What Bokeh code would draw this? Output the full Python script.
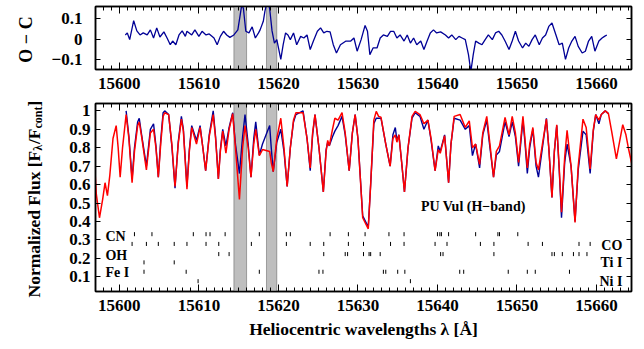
import math
from bokeh.plotting import figure
from bokeh.models import (Range1d, LinearAxis, FixedTicker, BoxAnnotation, Label, ColumnDataSource,
                          CustomJSTickFormatter)
from bokeh.layouts import column, row
from bokeh.embed import file_html
from bokeh.resources import INLINE

# ---------------- data ----------------
model_wave = [
    15596.9, 15597.1, 15597.5, 15597.9, 15598.2, 15598.5, 15598.8, 15599.2, 15599.6, 15599.85,
    15600.1, 15600.4, 15600.85, 15601.2, 15601.6, 15601.9, 15602.3, 15602.5, 15602.8, 15603.4,
    15603.7, 15603.9, 15604.3, 15604.6, 15604.9, 15605.2, 15605.5, 15605.7, 15606.2, 15606.6,
    15607.0, 15607.4, 15607.8, 15608.05, 15608.5, 15608.8, 15609.1, 15609.7, 15610.15, 15610.5,
    15610.85, 15611.3, 15611.8, 15612.1, 15612.45, 15612.7, 15613.0, 15613.4, 15613.8, 15614.25,
    15614.6, 15615.1, 15615.5, 15615.8, 15616.2, 15616.55, 15616.9, 15617.15, 15617.6, 15618.0,
    15618.9, 15619.1, 15619.35, 15619.8, 15620.3, 15620.7, 15621.1, 15621.5, 15621.9, 15622.2,
    15623.1, 15623.6, 15624.0, 15624.3, 15624.6, 15625.1, 15625.65, 15626.0, 15626.2, 15626.4,
    15626.8, 15627.1, 15627.5, 15628.0, 15628.4, 15628.9, 15629.3, 15629.65, 15630.0, 15630.6,
    15631.3, 15631.6, 15632.0, 15632.3, 15632.6, 15632.9, 15633.5, 15634.05, 15634.4, 15634.7,
    15634.9, 15635.15, 15635.5, 15635.85, 15636.3, 15636.8, 15637.2, 15637.8, 15638.3, 15638.8,
    15639.2, 15639.7, 15640.1, 15640.35, 15640.9, 15641.4, 15641.7, 15642.1, 15642.85, 15643.5,
    15644.0, 15644.4, 15644.8, 15645.3, 15645.7, 15646.2, 15646.6, 15647.05, 15647.4, 15647.8,
    15648.5, 15649.0, 15649.4, 15649.8, 15650.2, 15650.75, 15651.0, 15651.3, 15651.6, 15652.0,
    15652.4, 15652.7, 15653.2, 15653.7, 15654.0, 15654.4, 15654.7, 15655.0, 15655.3, 15655.6,
    15656.0, 15656.3, 15656.8, 15657.3, 15657.7, 15658.3, 15658.7, 15659.2, 15659.6, 15659.9,
    15660.3, 15660.6, 15661.1, 15661.5, 15661.9, 15662.5, 15663.3, 15663.7, 15664.0, 15664.45,
]
model_flux = [
    0.70, 0.55, 0.42, 0.52, 0.61, 0.54, 0.65, 0.85, 0.92, 0.80,
    0.64, 0.80, 0.98, 0.85, 0.61, 0.78, 0.92, 0.94, 0.86, 0.68,
    0.80, 0.88, 0.90, 0.80, 0.64, 0.82, 0.97, 0.99, 0.98, 0.82,
    0.59, 0.82, 0.955, 0.89, 0.575, 0.78, 0.91, 0.82, 0.91, 0.80,
    0.675, 0.86, 0.98, 0.85, 0.63, 0.78, 0.89, 0.77, 0.90, 0.985,
    0.80, 0.52, 0.80, 0.92, 0.80, 0.64, 0.82, 0.90, 0.757, 0.79,
    0.78, 0.72, 0.67, 0.85, 0.96, 0.80, 0.59, 0.80, 0.95, 0.99,
    0.99, 0.85, 0.69, 0.88, 0.98, 0.80, 0.56, 0.78, 0.84, 0.81,
    0.90, 0.96, 0.95, 0.99, 0.88, 0.675, 0.88, 0.98, 0.85, 0.42,
    0.36, 0.60, 0.95, 0.997, 0.97, 0.965, 0.82, 0.70, 0.85, 0.87,
    0.83, 0.87, 0.72, 0.56, 0.80, 0.97, 0.997, 0.98, 0.93, 0.95,
    0.85, 0.675, 0.79, 0.77, 0.865, 0.61, 0.82, 0.97, 0.98, 0.91,
    0.946, 0.80, 0.82, 0.71, 0.88, 0.97, 0.82, 0.64, 0.78, 0.81,
    0.965, 0.87, 0.97, 0.88, 0.72, 0.97, 0.85, 0.69, 0.82, 0.91,
    0.72, 0.68, 0.82, 0.955, 0.80, 0.53, 0.78, 0.925, 0.70, 0.45,
    0.75, 0.895, 0.70, 0.395, 0.70, 0.955, 0.91, 0.685, 0.90, 0.98,
    0.95, 0.98, 1.00, 0.985, 0.89, 0.74, 0.925, 0.87, 0.80, 0.71,
]
# observed spectrum, sampled on model_wave[12:164]
obs_wave = model_wave[12:164]
obs_flux = [
    1.00, 0.86, 0.63, 0.80, 0.94, 0.96, 0.87, 0.70,
    0.82, 0.90, 0.93, 0.81, 0.64, 0.84, 0.99, 1.00, 0.98, 0.81,
    0.58, 0.83, 0.97, 0.90, 0.59, 0.79, 0.92, 0.84, 0.92, 0.80,
    0.675, 0.87, 1.00, 0.86, 0.63, 0.79, 0.90, 0.81, 0.91, 0.99,
    0.82, 0.66, 0.86, 0.98, 0.82, 0.64, 0.85, 0.94, 0.76, 0.82,
    0.92, 0.80, 0.67, 0.83, 0.90, 0.78, 0.59, 0.80, 0.94, 0.98,
    1.00, 0.85, 0.675, 0.87, 0.98, 0.80, 0.56, 0.79, 0.83, 0.81,
    0.86, 0.89, 0.92, 0.97, 0.87, 0.675, 0.88, 0.98, 0.85, 0.43,
    0.37, 0.60, 0.93, 0.96, 0.96, 0.96, 0.82, 0.70, 0.87, 0.91,
    0.84, 0.87, 0.72, 0.56, 0.80, 0.96, 0.99, 0.97, 0.90, 0.95,
    0.84, 0.675, 0.81, 0.78, 0.87, 0.61, 0.82, 0.96, 0.95, 0.90,
    0.92, 0.757, 0.82, 0.69, 0.87, 0.95, 0.80, 0.64, 0.76, 0.78,
    0.94, 0.86, 0.94, 0.86, 0.70, 0.95, 0.83, 0.66, 0.80, 0.90,
    0.70, 0.64, 0.80, 0.96, 0.80, 0.53, 0.78, 0.92, 0.69, 0.42,
    0.72, 0.82, 0.70, 0.40, 0.68, 0.89, 0.87, 0.66, 0.89, 0.98,
    0.93, 0.98, 1.00, 0.985,
]
oc_wave = [
    15600.75, 15601.0, 15601.3, 15601.8, 15602.2, 15602.6, 15603.0, 15603.5, 15603.9, 15604.3,
    15604.7, 15605.1, 15605.6, 15606.0, 15606.4, 15606.7, 15607.1, 15607.5, 15607.9, 15608.3,
    15608.5, 15609.1, 15609.5, 15610.0, 15610.4, 15610.9, 15611.3, 15611.9, 15612.3, 15612.7,
    15613.1, 15613.5, 15613.9, 15614.4, 15614.9, 15615.2, 15615.4, 15615.6, 15615.9, 15616.3,
    15616.7, 15617.1, 15617.5, 15617.7, 15618.1, 15618.3, 15618.6, 15618.9, 15619.2, 15619.5,
    15619.8, 15620.3, 15620.6, 15620.9, 15621.2, 15621.5, 15621.9, 15622.3, 15622.8, 15623.2,
    15623.6, 15624.0, 15624.4, 15624.9, 15625.3, 15625.7, 15626.1, 15626.5, 15626.9, 15627.3,
    15627.8, 15628.5, 15629.1, 15629.5, 15629.9, 15630.4, 15630.9, 15631.2, 15631.5, 15631.9,
    15632.4, 15632.8, 15633.2, 15633.7, 15634.1, 15634.5, 15634.9, 15635.3, 15635.8, 15636.2,
    15636.6, 15637.0, 15637.4, 15637.9, 15638.3, 15638.7, 15639.1, 15639.5, 15639.9, 15640.4,
    15641.0, 15641.4, 15641.8, 15642.3, 15642.7, 15643.1, 15643.5, 15643.9, 15644.2, 15644.5,
    15644.8, 15645.2, 15645.6, 15646.0, 15646.4, 15646.9, 15647.3, 15647.7, 15648.1, 15648.5,
    15649.0, 15649.4, 15649.8, 15650.2, 15650.7, 15651.1, 15651.5, 15651.9, 15652.3, 15652.8,
    15653.2, 15653.6, 15654.0, 15654.4, 15654.9, 15655.3, 15655.7, 15656.1, 15656.5, 15656.9,
    15657.3, 15657.7, 15658.2, 15658.6, 15659.0, 15659.4, 15659.8, 15660.3, 15660.7, 15661.0,
    15661.3,
]
oc_value = [
    0.02, 0.03, -0.003, 0.09, 0.04, 0.02, 0.03, 0.02, 0.045, 0.005,
    0.055, 0.01, 0.035, 0.005, -0.028, -0.01, -0.028, 0.02, 0.04, 0.013,
    0.038, 0.02, 0.045, 0.013, 0.038, 0.02, 0.025, 0.005, -0.028, 0.013,
    0.038, 0.02, 0.008, 0.02, 0.045, 0.12, 0.17, 0.15, 0.038, 0.03,
    0.06, 0.005, 0.03, 0.045, 0.087, 0.136, 0.19, 0.15, 0.04, -0.02,
    -0.003, -0.10, -0.028, 0.03, 0.02, -0.003, 0.03, -0.028, 0.013, 0.005,
    0.02, -0.052, -0.01, 0.038, 0.055, 0.03, 0.038, 0.035, -0.028, -0.069,
    -0.028, -0.01, -0.01, 0.005, -0.06, -0.003, 0.067, 0.038, -0.077, -0.044,
    -0.044, 0.005, 0.02, 0.013, 0.038, 0.038, 0.005, 0.02, -0.01, 0.02,
    -0.02, 0.005, -0.028, -0.01, -0.052, -0.01, 0.03, 0.045, 0.03, 0.035,
    0.02, 0.005, 0.02, -0.003, 0.013, 0.005, -0.003, -0.077, -0.16, -0.077,
    -0.01, -0.02, -0.028, -0.003, 0.02, -0.003, 0.03, 0.038, 0.02, -0.01,
    -0.052, -0.01, 0.038, -0.01, -0.044, -0.02, -0.036, -0.003, 0.02, -0.028,
    0.005, 0.02, 0.062, 0.079, 0.02, -0.028, -0.02, -0.10, -0.044, -0.01,
    0.013, -0.036, -0.069, -0.06, -0.01, 0.013, -0.06, -0.01, 0.005, 0.013,
    0.02,
]
# excluded wavelength intervals (gray bands)
band_left = [15614.4, 15618.5]
band_right = [15616.0, 15619.8]

# line identifications
cn_lines = [15601.9, 15604.1, 15609.3, 15610.9, 15611.4, 15613.3, 15617.6, 15621.0, 15621.5, 15626.5,
            15628.8, 15630.9, 15633.9, 15635.8, 15640.0, 15640.3, 15640.5, 15641.4, 15644.8, 15647.6,
            15647.8, 15650.1]
co_lines = [15601.6, 15603.4, 15604.9, 15606.9, 15608.5, 15610.9, 15612.5, 15616.6, 15621.0, 15624.0,
            15625.7, 15628.8, 15630.7, 15634.1, 15635.8, 15639.7, 15641.2, 15645.4, 15647.1, 15651.4,
            15653.2, 15657.8, 15659.2]
oh_lines = [15612.5, 15613.8, 15625.7, 15628.4, 15628.7, 15630.7, 15631.4, 15631.6, 15632.8, 15640.4,
            15640.7, 15647.1, 15654.4, 15654.7, 15655.7, 15657.1, 15657.8, 15658.8]
ti_lines = [15603.1, 15606.9]
fe_lines = [15603.1, 15608.4, 15617.6, 15625.1, 15625.6, 15633.2, 15633.5, 15635.0, 15635.9, 15642.8,
            15643.3, 15648.9, 15651.3, 15652.3, 15656.6]
ni_lines = [15609.9, 15636.6]

x_major = [15600, 15610, 15620, 15630, 15640, 15650, 15660]
oc_ticks = [-0.1, 0.0, 0.1]
oc_tick_labels = {-0.1: "\u22120.1", 0.0: "0", 0.1: "0.1"}
flux_ticks = [0.1, 0.2, 0.3, 0.4, 0.5, 0.6, 0.7, 0.8, 0.9, 1.0]
flux_tick_labels = {0.1: "0.1", 0.2: "0.2", 0.3: "0.3", 0.4: "0.4", 0.5: "0.5",
                    0.6: "0.6", 0.7: "0.7", 0.8: "0.8", 0.9: "0.9", 1.0: "1"}

assert len(model_wave) == len(model_flux)
assert len(obs_wave) == len(obs_flux)
assert len(oc_wave) == len(oc_value)

# ---------------- styling ----------------
FONT = "Liberation Serif"
BLUE = "#000096"
RED = "#ff0000"
X0, X1 = 15597.0, 15664.4
x_minor = list(range(15597, 15665))
LEFT_W = 45          # width of the strip that carries the y-axis titles
TOTAL_H = 349


def style_axis(ax, show_labels, tick_len, minor=True, standoff=8):
    ax.major_tick_in = tick_len
    ax.major_tick_out = 0
    ax.minor_tick_in = 4 if minor else 0
    ax.minor_tick_out = 0
    ax.axis_line_width = 1.5
    ax.axis_line_color = "black"
    ax.major_tick_line_color = "black"
    ax.minor_tick_line_color = "black"
    ax.major_label_text_font = FONT
    ax.major_label_text_font_style = "bold"
    ax.major_label_text_color = "black"
    if show_labels:
        ax.major_label_text_font_size = "17px"
        ax.major_label_standoff = standoff
    else:
        # mirrored axis: ticks only, empty labels
        ax.formatter = CustomJSTickFormatter(code="return ''")
        ax.major_label_text_font_size = "1px"
        ax.major_label_standoff = 0


def make_fig(height, y0, y1, border_bottom, y_ticks, y_labels, y_standoff):
    p = figure(width=644 - LEFT_W, height=height, x_range=Range1d(X0, X1), y_range=Range1d(y0, y1),
               output_backend="svg", toolbar_location=None,
               min_border_left=95 - LEFT_W, min_border_right=13, min_border_top=6,
               min_border_bottom=border_bottom)
    p.grid.visible = False
    p.outline_line_color = "black"
    p.outline_line_width = 1.5
    p.background_fill_color = "white"
    p.border_fill_color = "white"
    xa = p.below[0]
    xa.ticker = FixedTicker(ticks=x_major, minor_ticks=x_minor)
    style_axis(xa, True, 7, True, 8)
    ya = p.left[0]
    ya.ticker = FixedTicker(ticks=y_ticks, minor_ticks=[])
    ya.major_label_overrides = y_labels
    style_axis(ya, True, 5, False, y_standoff)
    top = LinearAxis(ticker=FixedTicker(ticks=x_major, minor_ticks=x_minor))
    style_axis(top, False, 7, True)
    p.add_layout(top, "above")
    right = LinearAxis(ticker=FixedTicker(ticks=y_ticks, minor_ticks=[]))
    style_axis(right, False, 5, False)
    p.add_layout(right, "right")
    for l, r in zip(band_left, band_right):
        p.add_layout(BoxAnnotation(left=l, right=r, fill_color="#bebebe", fill_alpha=1.0,
                                   line_color="black", line_width=1, level="underlay"))
    return p, xa


# ---------------- top panel: O - C ----------------
p1, _ = make_fig(97, -0.15, 0.16, 28, oc_ticks, oc_tick_labels, 13)
p1.line(oc_wave, oc_value, line_color=BLUE, line_width=1.3)

# ---------------- bottom panel: spectra ----------------
p2, xb = make_fig(252, 0.02, 1.04, 58, flux_ticks, flux_tick_labels, 5)
xb.axis_label = "Heliocentric wavelengths \u03bb [\u00c5]"
xb.axis_label_text_font = FONT
xb.axis_label_text_font_style = "bold"
xb.axis_label_text_font_size = "17.5px"
xb.axis_label_text_color = "black"
xb.axis_label_standoff = 5

p2.line(obs_wave, obs_flux, line_color=BLUE, line_width=1.4)
p2.line(model_wave, model_flux, line_color=RED, line_width=1.5)

rows = [(cn_lines, 0.331), (co_lines, 0.278), (oh_lines, 0.223),
        (ti_lines, 0.178), (fe_lines, 0.127), (ni_lines, 0.076)]
for lines, yc in rows:
    src = ColumnDataSource(dict(x=lines, y0=[yc - 0.011] * len(lines), y1=[yc + 0.011] * len(lines)))
    p2.segment(x0="x", y0="y0", x1="x", y1="y1", source=src, line_color="black", line_width=1)


def tlabel(p, x, y, text, align, size="14px"):
    p.add_layout(Label(x=x, y=y, text=text, text_align=align, text_baseline="middle",
                       text_font=FONT, text_font_style="bold", text_font_size=size,
                       text_color="black"))


tlabel(p2, 15598.25, 0.32, "CN", "left")
tlabel(p2, 15598.25, 0.218, "OH", "left")
tlabel(p2, 15598.25, 0.124, "Fe I", "left")
tlabel(p2, 15663.25, 0.272, "CO", "right")
tlabel(p2, 15663.25, 0.178, "Ti I", "right")
tlabel(p2, 15663.25, 0.075, "Ni I", "right")
tlabel(p2, 15644.5, 0.48, "PU Vul (H\u2212band)", "center")

# ---------------- left strip with the rotated y-axis titles ----------------
pl = figure(width=LEFT_W, height=TOTAL_H, x_range=Range1d(0, LEFT_W), y_range=Range1d(0, TOTAL_H),
            output_backend="svg", toolbar_location=None, x_axis_type=None, y_axis_type=None,
            min_border=0, min_border_left=0, min_border_right=0, min_border_top=0, min_border_bottom=0)
pl.grid.visible = False
pl.outline_line_color = None
pl.background_fill_color = "white"
pl.border_fill_color = "white"

# "O - C" centred beside the top frame (pixel coordinates, y measured from the bottom)
pl.add_layout(Label(x=25, y=TOTAL_H - 39, text="O \u2212 C", angle=math.pi / 2,
                    text_align="center", text_baseline="middle", text_font=FONT,
                    text_font_style="bold", text_font_size="18px", text_color="black"))

# "Normalized Flux [F_lambda/F_cont]" built piece by piece, reading upwards
pieces = [("Normalized Flux [F", "17.5px", 297.0, 0.0),
          ("\u03bb", "12px", 150.2, 4.0),
          ("/F", "17.5px", 143.6, 0.0),
          ("cont", "12px", 128.0, 4.0),
          ("]", "17.5px", 106.0, 0.0)]
for text, size, sy, shift in pieces:
    pl.add_layout(Label(x=33 + shift, y=TOTAL_H - sy, text=text, angle=math.pi / 2,
                        text_align="left", text_baseline="alphabetic", text_font=FONT,
                        text_font_style="bold", text_font_size=size, text_color="black"))

layout = row(pl, column(p1, p2, spacing=0), spacing=0)
open("out.html", "w").write(file_html(layout, INLINE))
